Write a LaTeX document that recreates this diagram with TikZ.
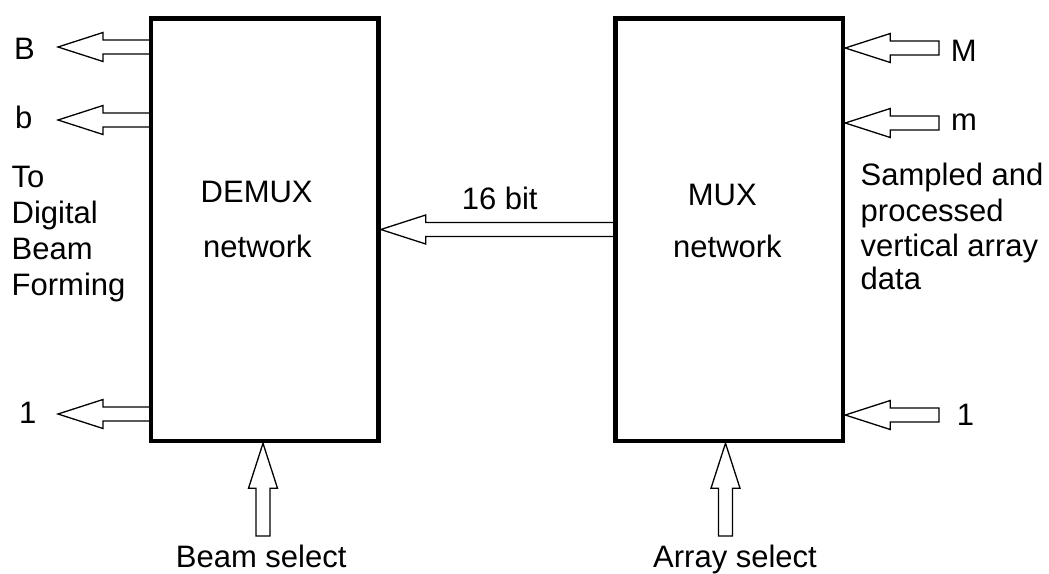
\documentclass[tikz,border=0pt]{standalone}
\usepackage{fontspec}
\setmainfont{Liberation Sans}
\usetikzlibrary{calc}
\begin{document}
\begin{tikzpicture}[x=1pt,y=-1pt,
  every node/.style={inner sep=0pt, font=\fontsize{31}{36}\selectfont},
  unit/.style={draw, line width=4.5pt, minimum width=227.5pt, minimum height=422.5pt},
  txt/.style={anchor=base west},
  % hollow block arrow: shaft half width 7pt, head 45pt long, head half width 14.5pt
  bus/.style={line width=1.3pt, line join=miter, to path={
    ($(\tikztotarget)!45pt!(\tikztostart)$) coordinate (babase)
    ($(\tikztostart)!7pt!90:(\tikztotarget)$)
      -- ($(babase)!7pt!90:(\tikztotarget)$)
      -- ($(babase)!14.5pt!90:(\tikztotarget)$)
      -- (\tikztotarget)
      -- ($(babase)!14.5pt!-90:(\tikztotarget)$)
      -- ($(babase)!7pt!-90:(\tikztotarget)$)
      -- ($(\tikztostart)!7pt!-90:(\tikztotarget)$)}}
]
\useasboundingbox (0,0) rectangle (1049,573);

% the two switching networks
\node[unit] (demux) at (264.75,229.75) {};
\node[unit] (mux) at (729.25,229.75) {};

% outputs of the demultiplexer
\coordinate (oBt) at (demux.west |- 0,47);   \coordinate (oBp) at (58,47);
\coordinate (obt) at (demux.west |- 0,120);  \coordinate (obp) at (58,120);
\coordinate (o1t) at (demux.west |- 0,414);  \coordinate (o1p) at (58,414);
\draw[bus] (oBt) to (oBp);
\draw[bus] (obt) to (obp);
\draw[bus] (o1t) to (o1p);

% inputs of the multiplexer
\coordinate (iMt) at (939,48);   \coordinate (iMp) at (mux.east |- 0,48);
\coordinate (imt) at (939,123);  \coordinate (imp) at (mux.east |- 0,123);
\coordinate (i1t) at (939,415);  \coordinate (i1p) at (mux.east |- 0,415);
\draw[bus] (iMt) to (iMp) -- cycle;
\draw[bus] (imt) to (imp) -- cycle;
\draw[bus] (i1t) to (i1p) -- cycle;

% 16 bit link between the networks
\coordinate (lt) at (mux.west |- 0,229.5);
\coordinate (lp) at (demux.east |- 0,229.5);
\draw[bus] (lt) to (lp);

% select lines
\coordinate (bst) at (263,536);   \coordinate (bsp) at (demux.south -| 263,0);
\coordinate (ast) at (725.5,536); \coordinate (asp) at (mux.south -| 725.5,0);
\draw[bus] (bst) to (bsp) -- cycle;
\draw[bus] (ast) to (asp) -- cycle;

% labels
\node[txt] (lB) at (14,59) {B};
\node[txt] (lb) at (15,128) {b};
\node[txt] (l1) at (19,423) {1};
\foreach \t [count=\i] in {To, Digital, Beam, Forming}
  \node[txt] (ldbf\i) at (11.5,{187+36*(\i-1)}) {\t};

\node[txt] (rM) at (950.7,61) {M};
\node[txt] (rm) at (951,130) {m};
\node[txt] (r1) at (956.6,425) {1};
\node[txt] (rs1) at (860.5,185) {Sampled and};
\node[txt] (rs2) at (860.5,221) {processed};
\node[txt] (rs3) at (860.5,256.5) {vertical array};
\node[txt] (rs4) at (860.5,289) {data};

\node[txt] (dm1) at (200.5,202) {DEMUX};
\node[txt] (dm2) at (203,257) {network};
\node[txt] (mx1) at (687.7,205) {MUX};
\node[txt] (mx2) at (673,257) {network};
\node[txt] (bits) at (461.6,209) {16 bit};

\node[txt] (bsel) at (175.7,567) {Beam select};
\node[txt] (asel) at (653,567) {Array select};
\end{tikzpicture}
\end{document}
